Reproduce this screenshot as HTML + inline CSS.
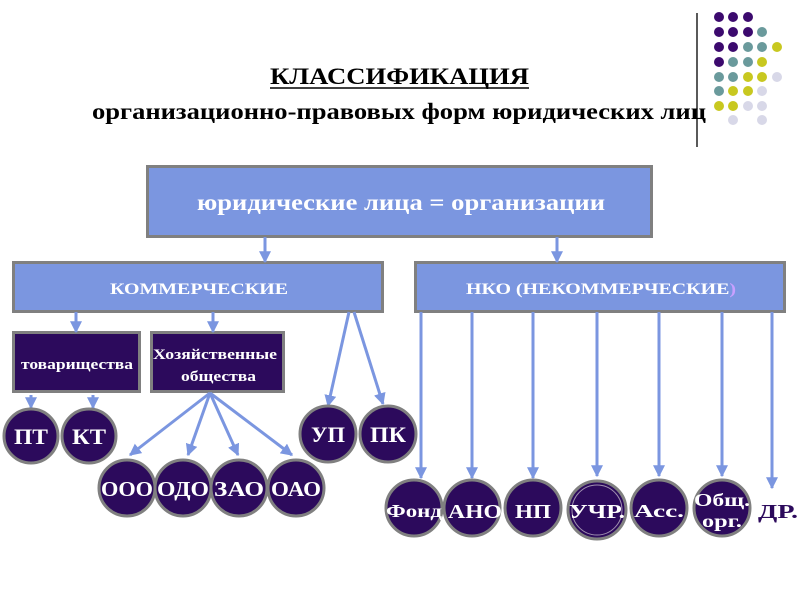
<!DOCTYPE html>
<html><head><meta charset="utf-8"><style>
html,body{margin:0;padding:0;background:#fff}
svg{display:block}
.t{font-family:"Liberation Serif","Noto Serif CJK SC",serif;font-weight:bold}
</style></head><body>
<svg width="800" height="600" viewBox="0 0 800 600" xmlns="http://www.w3.org/2000/svg">
<defs>
<marker id="a" viewBox="0 0 10 10" refX="9" refY="5" markerWidth="4" markerHeight="4" orient="auto-start-reverse"><path d="M0,0L10,5L0,10z" fill="#7b96e0"/></marker>
</defs>
<line x1="697" y1="13" x2="697" y2="147" stroke="#000" stroke-width="1.3"/>
<g>
<circle cx="719" cy="17" r="5" fill="#3c0a6e"/><circle cx="733" cy="17" r="5" fill="#3c0a6e"/><circle cx="748" cy="17" r="5" fill="#3c0a6e"/>
<circle cx="719" cy="32" r="5" fill="#3c0a6e"/><circle cx="733" cy="32" r="5" fill="#3c0a6e"/><circle cx="748" cy="32" r="5" fill="#3c0a6e"/><circle cx="762" cy="32" r="5" fill="#6a9a9c"/>
<circle cx="719" cy="47" r="5" fill="#3c0a6e"/><circle cx="733" cy="47" r="5" fill="#3c0a6e"/><circle cx="748" cy="47" r="5" fill="#6a9a9c"/><circle cx="762" cy="47" r="5" fill="#6a9a9c"/><circle cx="777" cy="47" r="5" fill="#c8c820"/>
<circle cx="719" cy="62" r="5" fill="#3c0a6e"/><circle cx="733" cy="62" r="5" fill="#6a9a9c"/><circle cx="748" cy="62" r="5" fill="#6a9a9c"/><circle cx="762" cy="62" r="5" fill="#c8c820"/>
<circle cx="719" cy="77" r="5" fill="#6a9a9c"/><circle cx="733" cy="77" r="5" fill="#6a9a9c"/><circle cx="748" cy="77" r="5" fill="#c8c820"/><circle cx="762" cy="77" r="5" fill="#c8c820"/><circle cx="777" cy="77" r="5" fill="#d8d8e8"/>
<circle cx="719" cy="91" r="5" fill="#6a9a9c"/><circle cx="733" cy="91" r="5" fill="#c8c820"/><circle cx="748" cy="91" r="5" fill="#c8c820"/><circle cx="762" cy="91" r="5" fill="#d8d8e8"/>
<circle cx="719" cy="106" r="5" fill="#c8c820"/><circle cx="733" cy="106" r="5" fill="#c8c820"/><circle cx="748" cy="106" r="5" fill="#d8d8e8"/><circle cx="762" cy="106" r="5" fill="#d8d8e8"/>
<circle cx="733" cy="120" r="5" fill="#d8d8e8"/><circle cx="762" cy="120" r="5" fill="#d8d8e8"/>
</g>
<text class="t" x="270" y="84" font-size="23" textLength="259" lengthAdjust="spacingAndGlyphs" fill="#000">КЛАССИФИКАЦИЯ</text>
<line x1="270" y1="88" x2="529" y2="88" stroke="#000" stroke-width="1.5"/>
<text class="t" x="92" y="119" font-size="23" textLength="614" lengthAdjust="spacingAndGlyphs" fill="#000">организационно-правовых форм юридических лиц</text>
<rect x="147.5" y="166.5" width="504" height="70" fill="#7b96e0" stroke="#808080" stroke-width="3"/>
<text class="t" x="197" y="210" font-size="23" textLength="408" lengthAdjust="spacingAndGlyphs" fill="#fff">юридические лица = организации</text>
<rect x="13.5" y="262.5" width="369" height="49" fill="#7b96e0" stroke="#808080" stroke-width="3"/>
<text class="t" x="110" y="294" font-size="16" textLength="178" lengthAdjust="spacingAndGlyphs" fill="#fff">КОММЕРЧЕСКИЕ</text>
<rect x="415.5" y="262.5" width="369" height="49" fill="#7b96e0" stroke="#808080" stroke-width="3"/>
<text class="t" x="466" y="294" font-size="16" textLength="270" lengthAdjust="spacingAndGlyphs" fill="#fff">НКО (НЕКОММЕРЧЕСКИЕ<tspan fill="#c8a0ff">)</tspan></text>
<rect x="13.5" y="332.5" width="126" height="59" fill="#2c0a5c" stroke="#808080" stroke-width="3"/>
<text class="t" x="21" y="369" font-size="15" textLength="112" lengthAdjust="spacingAndGlyphs" fill="#fff">товарищества</text>
<rect x="151.5" y="332.5" width="132" height="59" fill="#2c0a5c" stroke="#808080" stroke-width="3"/>
<text class="t" x="153" y="359" font-size="14.5" textLength="124" lengthAdjust="spacingAndGlyphs" fill="#fff">Хозяйственные</text>
<text class="t" x="181" y="381" font-size="14.5" textLength="75" lengthAdjust="spacingAndGlyphs" fill="#fff">общества</text>
<g stroke="#7b96e0" stroke-width="3" fill="none" marker-end="url(#a)">
<line x1="265" y1="237" x2="265" y2="262"/>
<line x1="557" y1="237" x2="557" y2="262"/>
<line x1="76" y1="312" x2="76" y2="332"/>
<line x1="213" y1="312" x2="213" y2="332"/>
<line x1="31" y1="395" x2="31" y2="408"/>
<line x1="93" y1="395" x2="93" y2="408"/>
<line x1="349" y1="312" x2="328" y2="406"/>
<line x1="354" y1="312" x2="383" y2="404"/>
<line x1="210" y1="393" x2="130" y2="455"/>
<line x1="210" y1="393" x2="188" y2="455"/>
<line x1="210" y1="393" x2="238" y2="455"/>
<line x1="210" y1="393" x2="292" y2="455"/>
<line x1="421" y1="312" x2="421" y2="478"/>
<line x1="472" y1="312" x2="472" y2="478"/>
<line x1="533" y1="312" x2="533" y2="478"/>
<line x1="597" y1="312" x2="597" y2="476"/>
<line x1="659" y1="312" x2="659" y2="476"/>
<line x1="722" y1="312" x2="722" y2="476"/>
<line x1="772" y1="312" x2="772" y2="488"/>
</g>
<g fill="#2c0a5c" stroke="#808080" stroke-width="3">
<circle cx="31" cy="436" r="27"/><circle cx="89" cy="436" r="27"/>
<circle cx="328" cy="434" r="28"/><circle cx="388" cy="434" r="28"/>
<circle cx="127" cy="488" r="28"/><circle cx="183" cy="488" r="28"/><circle cx="239" cy="488" r="28"/><circle cx="296" cy="488" r="28"/>
<circle cx="414" cy="508" r="28"/><circle cx="472" cy="508" r="28"/><circle cx="533" cy="508" r="28"/><circle cx="597" cy="510" r="29"/><circle cx="659" cy="508" r="28"/><circle cx="722" cy="508" r="28"/>
</g>
<circle cx="597" cy="510" r="25" fill="none" stroke="#a090b0" stroke-width="1"/>
<g class="t" fill="#fff" text-anchor="middle" lengthAdjust="spacingAndGlyphs">
<text x="31" y="444" font-size="22" textLength="34" lengthAdjust="spacingAndGlyphs">ПТ</text><text x="89" y="444" font-size="22" textLength="34" lengthAdjust="spacingAndGlyphs">КТ</text>
<text x="328" y="442" font-size="22" textLength="34" lengthAdjust="spacingAndGlyphs">УП</text><text x="388" y="442" font-size="22" textLength="36" lengthAdjust="spacingAndGlyphs">ПК</text>
<text x="127" y="496" font-size="21" textLength="52" lengthAdjust="spacingAndGlyphs">ООО</text><text x="183" y="496" font-size="21" textLength="52" lengthAdjust="spacingAndGlyphs">ОДО</text><text x="239" y="496" font-size="21" textLength="50" lengthAdjust="spacingAndGlyphs">ЗАО</text><text x="296" y="496" font-size="21" textLength="50" lengthAdjust="spacingAndGlyphs">ОАО</text>
<text x="414" y="517" font-size="18" textLength="56" lengthAdjust="spacingAndGlyphs">Фонд</text><text x="475" y="518" font-size="20" textLength="54" lengthAdjust="spacingAndGlyphs">АНО</text><text x="533" y="518" font-size="20" textLength="36" lengthAdjust="spacingAndGlyphs">НП</text><text x="597" y="518" font-size="20" textLength="56" lengthAdjust="spacingAndGlyphs">УЧР.</text><text x="659" y="517" font-size="18" textLength="50" lengthAdjust="spacingAndGlyphs">Асс.</text>
<text x="722" y="506" font-size="18" textLength="56" lengthAdjust="spacingAndGlyphs">Общ.</text><text x="722" y="527" font-size="18" textLength="40" lengthAdjust="spacingAndGlyphs">орг.</text>
</g>
<text class="t" x="778" y="518" font-size="20" text-anchor="middle" fill="#2c0a5c" textLength="40" lengthAdjust="spacingAndGlyphs">ДР.</text>
</svg>
</body></html>
